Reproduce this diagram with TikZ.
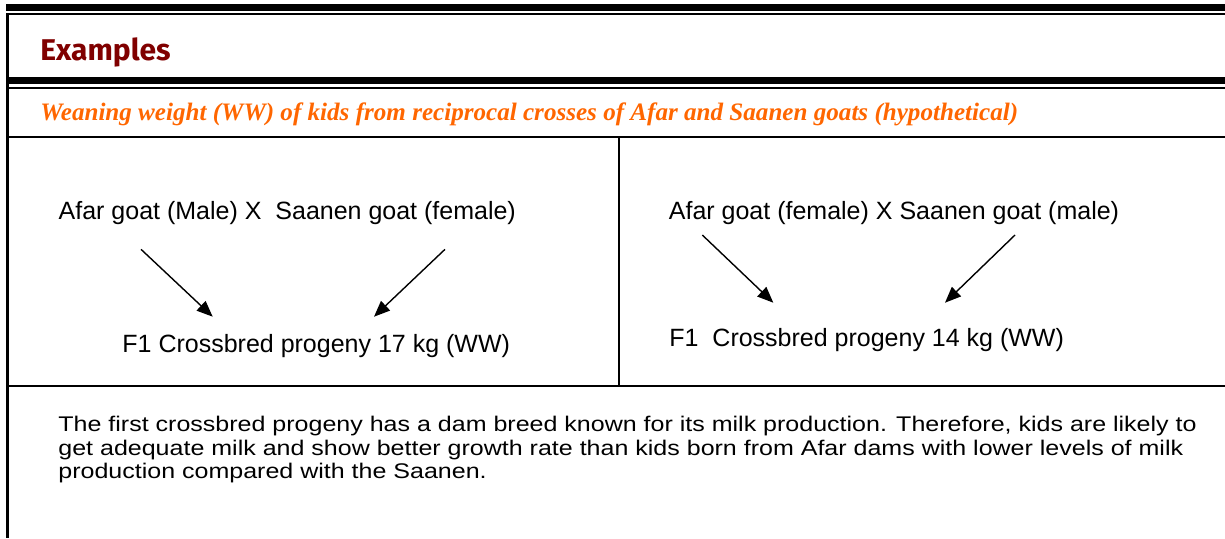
\documentclass[tikz,border=0pt]{standalone}
\usepackage{fontspec}
\setmainfont{Liberation Sans}
\newfontfamily\headfont{Fira Sans}
\newfontfamily\titlefont{Liberation Serif}
\newfontfamily\notefont[FakeStretch=1.18]{Liberation Sans}
\usetikzlibrary{arrows.meta}
\definecolor{headred}{RGB}{128,0,0}
\definecolor{titleorange}{RGB}{255,102,0}

\begin{document}
\begin{tikzpicture}[x=0.5pt, y=-0.5pt,
    every node/.style={anchor=base west, inner sep=0pt},
    crosstext/.style={font=\fontsize{12.5}{14}\selectfont},
    crossarrow/.style={-{Triangle[length=8pt,width=6.5pt]}, line width=0.7pt}]
    \useasboundingbox (0,0) rectangle (1225,538);

    % frame rules
    \fill (6,4) rectangle (1225,11);
    \fill (6,12.7) rectangle (1225,14.7);
    \fill (6,76.7) rectangle (1225,84.3);
    \fill (6,86.7) rectangle (1225,88.7);
    \fill (6,12.7) rectangle (9,538);
    \draw[line width=0.65pt] (9,137) -- (1225,137);
    \draw[line width=1pt] (9,385.5) -- (1225,385.5);
    \draw[line width=0.85pt] (619,137) -- (619,385.5);

    % headings
    \node[font=\headfont\bfseries\fontsize{15}{18}\selectfont, text=headred] (head) at (40,60) {Examples};
    \node[font=\titlefont\bfseries\itshape\fontsize{12.55}{14}\selectfont, text=titleorange] (title) at (40,120.7)
        {Weaning weight (WW) of kids from reciprocal crosses of Afar and Saanen goats (hypothetical)};

    % the two crosses
    \node[crosstext] (crossL) at (58.3,219.3) {Afar goat (Male) X\ \ Saanen goat (female)};
    \node[crosstext] (progL) at (122,352.7) {F1 Crossbred progeny 17 kg (WW)};
    \node[crosstext] (crossR) at (668.5,219.3) {Afar goat (female) X Saanen goat (male)};
    \node[crosstext] (progR) at (669,346) {F1\ \ Crossbred progeny 14 kg (WW)};

    \coordinate (l1) at (141,249.3);   \coordinate (l2) at (212.7,316.7);
    \coordinate (l3) at (445,249.3);   \coordinate (l4) at (374,316.7);
    \coordinate (r1) at (702.3,235);   \coordinate (r2) at (773.3,302.7);
    \coordinate (r3) at (1015,235);    \coordinate (r4) at (945,302.7);
    \draw[crossarrow] (l1) -- (l2);
    \draw[crossarrow] (l3) -- (l4);
    \draw[crossarrow] (r1) -- (r2);
    \draw[crossarrow] (r3) -- (r4);

    % comment below the crosses
    \node[font=\notefont\fontsize{10.6}{11.8}\selectfont, align=left] (note) at (58,478.9)
        {The first crossbred progeny has a dam breed known for its milk production. Therefore, kids are likely to\\
         get adequate milk and show better growth rate than kids born from Afar dams with lower levels of milk\\
         production compared with the Saanen.};
\end{tikzpicture}
\end{document}
